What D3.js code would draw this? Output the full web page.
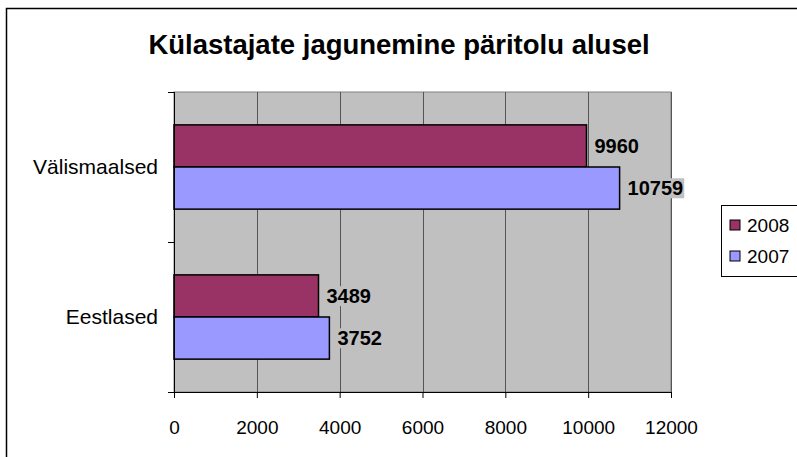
<!DOCTYPE html>
<html>
<head>
<meta charset="utf-8">
<script src="https://cdn.jsdelivr.net/npm/d3@7"></script>
<style>
  body { margin: 0; background: #fff; }
  text { font-family: "Liberation Sans", Arial, sans-serif; }
</style>
</head>
<body>
<div id="chart"></div>
<script>
// andmed
const categories = ["Välismaalsed", "Eestlased"];
const seriesNames = ["2008", "2007"];
const values2008 = [9960, 3489];
const values2007 = [10759, 3752];
const xTicks = [0, 2000, 4000, 6000, 8000, 10000, 12000];
const colors = { "2008": "#993366", "2007": "#9999ff" };

const W = 797, H = 457;
const plot = { left: 174, top: 92, right: 671, bottom: 392 };

const svg = d3.select("#chart")
    .append("svg")
    .attr("width", W)
    .attr("height", H);

// välimine raam (ainult vasak ja ülemine serv paistavad)
svg.append("rect")
    .attr("x", 6.5).attr("y", 8.5)
    .attr("width", W + 20).attr("height", H + 20)
    .attr("fill", "#fff")
    .attr("stroke", "#000")
    .attr("stroke-width", 1.5);

// pealkiri
svg.append("text")
    .attr("x", 399)
    .attr("y", 54)
    .attr("text-anchor", "middle")
    .style("font-size", "27.5px")
    .style("font-weight", "bold")
    .text("Külastajate jagunemine päritolu alusel");

const x = d3.scaleLinear()
    .domain([0, 12000])
    .range([plot.left, plot.right]);

const y0 = d3.scaleBand()
    .domain(categories)
    .range([plot.top, plot.bottom]);

const y1 = d3.scaleBand()
    .domain(seriesNames)
    .range([0, y0.bandwidth()])
    .paddingOuter(0.78)
    .paddingInner(0);

// taust
svg.append("rect")
    .attr("x", plot.left).attr("y", plot.top)
    .attr("width", plot.right - plot.left)
    .attr("height", plot.bottom - plot.top)
    .attr("fill", "#c0c0c0")
    .attr("stroke", "#808080")
    .attr("stroke-width", 1);

// ruudustik
svg.selectAll(".grid")
    .data(xTicks.slice(1))
    .enter()
    .append("line")
    .attr("class", "grid")
    .attr("x1", d => Math.round(x(d)) + 0.5)
    .attr("x2", d => Math.round(x(d)) + 0.5)
    .attr("y1", plot.top)
    .attr("y2", plot.bottom)
    .attr("stroke", "#555")
    .attr("stroke-width", 1);

// tulbad
const rows = [];
categories.forEach((c, i) => {
    rows.push({ cat: c, s: "2008", v: values2008[i] });
    rows.push({ cat: c, s: "2007", v: values2007[i] });
});

svg.selectAll(".bar")
    .data(rows)
    .enter()
    .append("rect")
    .attr("class", "bar")
    .attr("x", x(0))
    .attr("y", d => y0(d.cat) + y1(d.s))
    .attr("width", d => x(d.v) - x(0))
    .attr("height", y1.bandwidth())
    .attr("fill", d => colors[d.s])
    .attr("stroke", "#000")
    .attr("stroke-width", 1.5);

// väärtused tulpade kõrval, halli taustaga
const labels = svg.selectAll(".label")
    .data(rows)
    .enter()
    .append("g")
    .attr("class", "label");

labels.append("text")
    .attr("x", d => x(d.v) + 8)
    .attr("y", d => y0(d.cat) + y1(d.s) + y1.bandwidth() / 2)
    .attr("dy", "0.36em")
    .style("font-size", "20px")
    .style("font-weight", "bold")
    .text(d => d.v);

labels.each(function() {
    const g = d3.select(this);
    const bb = g.select("text").node().getBBox();
    g.insert("rect", "text")
        .attr("x", bb.x - 1)
        .attr("y", bb.y + 1)
        .attr("width", bb.width + 2)
        .attr("height", bb.height - 2)
        .attr("fill", "#c0c0c0");
});

// x-telg
const xAxis = svg.append("g")
    .attr("transform", `translate(0,${plot.bottom})`)
    .call(d3.axisBottom(x).tickValues(xTicks).tickSize(6).tickSizeOuter(0).tickFormat(d3.format("d")));
xAxis.select(".domain").attr("stroke", "#000").attr("d", `M${plot.left - 6},0.5H${plot.right}`);
xAxis.selectAll("line").attr("stroke", "#000");
xAxis.selectAll("text")
    .attr("y", 35)
    .attr("dy", "0.35em")
    .style("font-size", "19px")
    .attr("fill", "#000");

// y-telg
const yAxis = svg.append("g")
    .attr("transform", `translate(${plot.left},0)`)
    .call(d3.axisLeft(y0).tickSize(0).tickPadding(16));
yAxis.select(".domain").attr("stroke", "#000").attr("d", `M0.5,${plot.top}V${plot.bottom}`);
yAxis.selectAll("text")
    .style("font-size", "21px")
    .attr("fill", "#000");

// y-telje kriipsud kategooriate vahel
svg.selectAll(".ytick")
    .data([plot.top, plot.top + y0.bandwidth()])
    .enter()
    .append("line")
    .attr("x1", plot.left - 6)
    .attr("x2", plot.left)
    .attr("y1", d => d + 0.5)
    .attr("y2", d => d + 0.5)
    .attr("stroke", "#000");

// legend
const legend = svg.append("g").attr("transform", "translate(721,205)");
legend.append("rect")
    .attr("x", 0.5).attr("y", 0.5)
    .attr("width", 80).attr("height", 71)
    .attr("fill", "#fff")
    .attr("stroke", "#000");

const li = legend.selectAll(".li")
    .data(seriesNames)
    .enter()
    .append("g")
    .attr("transform", (d, i) => `translate(9,${20 + i * 31})`);

li.append("rect")
    .attr("x", 0).attr("y", -5)
    .attr("width", 10).attr("height", 10)
    .attr("fill", d => colors[d])
    .attr("stroke", "#000");

li.append("text")
    .attr("x", 17)
    .attr("dy", "0.36em")
    .style("font-size", "19px")
    .text(d => d);
</script>
</body>
</html>
